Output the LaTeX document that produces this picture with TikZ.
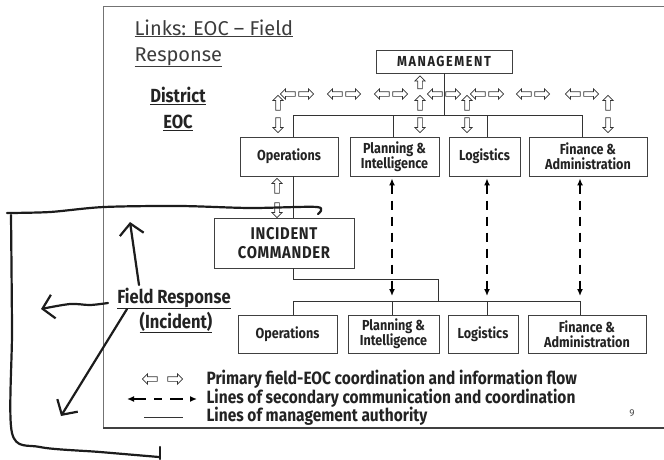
\documentclass[tikz,border=0pt]{standalone}
\usepackage{fontspec}
\setmainfont{Fira Sans}
\newfontfamily\condfont[FakeStretch=0.87]{Fira Sans}
\definecolor{inkgray}{RGB}{35,35,35}
\definecolor{titlegray}{RGB}{60,60,60}
\definecolor{pengray}{RGB}{28,28,28}
\usetikzlibrary{shapes.arrows, arrows.meta, calc}

\begin{document}
\begin{tikzpicture}[x=1pt, y=-1pt,
  orgbox/.style={draw=black!75, fill=white, line width=0.8pt, align=center, inner sep=0pt, text=inkgray, font=\condfont\bfseries\fontsize{14.5}{15}\selectfont},
  hollow/.style={single arrow, draw=black!80, fill=white, line width=0.7pt, inner sep=2pt, minimum height=15pt, single arrow head extend=2.8pt, single arrow tip angle=90},
  authline/.style={draw=black!80, line width=0.8pt},
  dasharr/.style={line width=1.6pt, dash pattern=on 9pt off 7pt, {Latex[length=7pt,width=6pt]}-{Latex[length=7pt,width=6pt]}},
  legtext/.style={anchor=base west, text=inkgray, font=\condfont\bfseries\fontsize{17.8}{19}\selectfont},
  sidetext/.style={anchor=base, text=inkgray, font=\condfont\bfseries\fontsize{19}{21}\selectfont},
  pen/.style={draw=pengray, line width=2.2pt, line cap=round, line join=round},
  penarr/.style={pen, -{Straight Barb[length=11pt,width=24pt,line width=2.2pt]}}
]
  \useasboundingbox (0,0) rectangle (664,459);

  % slide frame
  \draw[black!55, line width=0.6pt] (664,6) -- (103,6) -- (103,428);
  \draw[black!75, line width=1.8pt] (103,428) -- (664,428);

  % title and side labels
  \node[anchor=base west, text=titlegray, font=\fontsize{20}{22}\selectfont] (title1) at (131,35) {\underline{Links: EOC -- Field}};
  \node[anchor=base west, text=titlegray, font=\fontsize{20}{22}\selectfont] (title2) at (131,61) {\underline{Response}};
  \node[sidetext] (dist) at (178,102) {\underline{District}};
  \node[sidetext] (eoc) at (178,128) {\underline{EOC}};
  \node[sidetext] (field) at (174,303) {\underline{Field Response}};
  \node[sidetext] (incid) at (176,328) {\underline{(Incident)}};

  % EOC level
  \node[orgbox, minimum width=136pt, minimum height=23pt, font=\condfont\bfseries\fontsize{14.5}{15}\selectfont\addfontfeature{LetterSpace=11}] (mgmt) at (444,61.5) {MANAGEMENT};
  \node[orgbox, minimum width=98pt, minimum height=39pt] (eops) at (289,156.5) {Operations};
  \node[orgbox, minimum width=89pt, minimum height=39pt] (eplan) at (394.5,156.5) {Planning \&\\Intelligence};
  \node[orgbox, minimum width=71pt, minimum height=39pt] (elog) at (484.5,156.5) {Logistics};
  \node[orgbox, minimum width=118pt, minimum height=39pt] (efin) at (588,156.5) {Finance \&\\Administration};

  % field level
  \node[orgbox, minimum width=140pt, minimum height=50pt, font=\condfont\bfseries\fontsize{17}{19}\selectfont\addfontfeature{LetterSpace=4}] (ic) at (284,243) {INCIDENT\\COMMANDER};
  \node[orgbox, minimum width=99pt, minimum height=38pt] (fops) at (287.5,334) {Operations};
  \node[orgbox, minimum width=91pt, minimum height=38pt] (fplan) at (393.5,334) {Planning \&\\Intelligence};
  \node[orgbox, minimum width=70pt, minimum height=38pt] (flog) at (483,334) {Logistics};
  \node[orgbox, minimum width=118pt, minimum height=38pt] (ffin) at (587,334) {Finance \&\\Administration};

  % lines of authority
  \coordinate (eb1) at (293,115);
  \coordinate (eb2) at (393,115);
  \coordinate (eb3) at (487,115);
  \coordinate (eb4) at (582,115);
  \coordinate (fb1) at (293,301);
  \coordinate (fb2) at (392,301);
  \coordinate (fb3) at (487,301);
  \coordinate (fb4) at (580,301);
  \coordinate (fbm) at (438,301);
  \draw[authline] (mgmt.south) -- (mgmt.south |- eb1);
  \draw[authline] (eb1 |- eops.north) -- (eb1) -- (eb4) -- (eb4 |- efin.north);
  \draw[authline] (eb2) -- (eb2 |- eplan.north);
  \draw[authline] (eb3) -- (eb3 |- elog.north);
  \draw[authline] (eb1 |- eops.south) -- (eb1 |- ic.north);
  \draw[authline] (eb1 |- ic.south) -- ++(0,11) -| (fbm);
  \draw[authline] (fb1 |- fops.north) -- (fb1) -- (fb4) -- (fb4 |- ffin.north);
  \draw[authline] (fb2) -- (fb2 |- fplan.north);
  \draw[authline] (fb3) -- (fb3 |- flog.north);

  % secondary communication
  \draw[dasharr] ([yshift=-2pt]eplan.south -| fb2) -- ([yshift=5pt]fb2);
  \draw[dasharr] ([yshift=-2pt]elog.south -| fb3) -- ([yshift=5pt]fb3);
  \draw[dasharr] ([yshift=-2pt]efin.south -| fb4) -- ([yshift=5pt]fb4);

  % primary coordination arrows
  \foreach \cx [count=\i] in {297,344,391,444,487,533,582} {
    \node[hollow, rotate=180] (pl\i) at (\cx-8,94) {};
    \node[hollow] (pr\i) at (\cx+8,94) {};
  }
  \foreach \ax/\nm in {278/a, 420/b, 467/c, 608/d} {
    \node[hollow, rotate=90] (up\nm) at (\ax,104) {};
    \node[hollow, rotate=-90] (dn\nm) at (\ax,124) {};
  }
  \node[hollow, rotate=90, minimum height=13pt] (upmgmt) at (420,83.5) {};
  \node[hollow, rotate=90] (upic) at (277,187) {};
  \node[hollow, rotate=-90] (dnic) at (277,209) {};

  % legend
  \node[hollow, rotate=180] (lgl) at (151,379) {};
  \node[hollow] (lgr) at (174,379) {};
  \coordinate (lgd1) at (127,399);
  \coordinate (lgd2) at (197,399);
  \coordinate (lgs1) at (144,417);
  \coordinate (lgs2) at (183,417);
  \draw[dasharr, dash pattern=on 13pt off 8pt on 8pt off 8pt] (lgd1) -- (lgd2);
  \draw[authline, line width=0.6pt] (lgs1) -- (lgs2);
  \node[legtext] (lg1) at (203,384) {Primary field-EOC coordination and information flow};
  \node[legtext] (lg2) at (203,403) {Lines of secondary communication and coordination};
  \node[legtext] (lg3) at (203,421) {Lines of management authority};
  \node[text=black!70, font=\fontsize{10}{12}\selectfont] (pgno) at (632,413) {9};

  % hand-drawn marks
  \draw[pen] plot[smooth] coordinates {(318,214) (317,207) (250,208) (180,206) (104,207) (50,212) (7,213)};
  \draw[pen] plot[smooth] coordinates {(11,215) (12,330) (12,433) (40,447) (100,452) (159,457)};
  \draw[pen] (160,459) -- (160,447);
  \draw[penarr] plot[smooth] coordinates {(139,285) (134,250) (130,222)};
  \draw[penarr] plot[smooth] coordinates {(108,303) (90,305) (70,304) (41,309)};
  \draw[penarr] (127,309) -- (61,416);
\end{tikzpicture}
\end{document}
